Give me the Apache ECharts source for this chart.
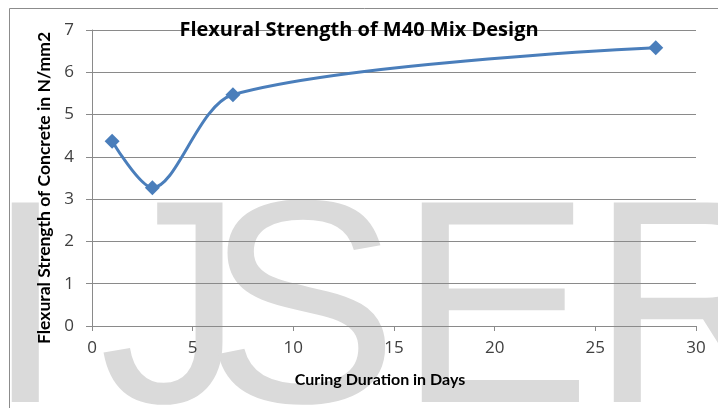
<!DOCTYPE html>
<html>
<head>
<meta charset="utf-8">
<script src="https://cdn.jsdelivr.net/npm/echarts@6/dist/echarts.min.js"></script>
<style>html,body{margin:0;padding:0;background:#fff}#c{width:718px;height:408px}</style>
</head>
<body>
<div id="c"></div>
<script>
const days = [1, 3, 7, 28];
const strength = [4.37, 3.27, 5.47, 6.58];
const xTicks = [0, 5, 10, 15, 20, 25, 30];
const yTicks = [0, 1, 2, 3, 4, 5, 6, 7];
const titleText = 'Flexural Strength of M40 Mix Design';
const xName = 'Curing Duration in Days';
const yName = 'Flexural Strength of Concrete in N/mm2';

const chart = echarts.init(document.getElementById('c'), null, {renderer: 'canvas'});
const wmFont = '290px "Liberation Sans"';
const wm = [['I', -15], ['J', 99], ['S', 205], ['E', 398], ['R', 590]];
const gridColor = '#8a8a8a';
const labelFont = 'Open Sans';
chart.setOption({
  animation: false,
  backgroundColor: '#fff',
  title: {
    text: titleText, left: 'center', top: 15,
    textStyle: {fontFamily: 'Open Sans', fontWeight: 'bold', fontSize: 20, color: '#000'}
  },
  graphic: [
    ...wm.map(([t, x]) => ({
      type: 'text', z: -10, silent: true,
      style: {text: t, x: x, y: 322, font: wmFont, fill: '#dadada', textVerticalAlign: 'middle'}
    })),
    {type: 'polyline', z: -5, silent: true,
     shape: {points: [[9.5, 420], [9.5, 8.5], [730, 8.5]]},
     style: {stroke: '#8c8c8c', lineWidth: 1, fill: null}}
  ],
  grid: {left: 92, right: 22, top: 30, bottom: 82},
  xAxis: {
    type: 'value', min: 0, max: 30, interval: 5,
    name: xName, nameLocation: 'middle', nameGap: 46,
    nameTextStyle: {fontFamily: 'Lato', fontWeight: 'bold', fontSize: 16, color: '#000', padding: [0, 28, 0, 0]},
    axisLine: {show: true, lineStyle: {color: gridColor, width: 1}},
    axisTick: {show: true, length: 5, inside: false, lineStyle: {color: gridColor}},
    axisLabel: {margin: 14, fontFamily: labelFont, fontSize: 17, color: '#404040',
      formatter: v => xTicks.includes(v) ? String(v) : ''},
    splitLine: {show: false}
  },
  yAxis: {
    type: 'value', min: 0, max: 7, interval: 1,
    name: yName, nameLocation: 'middle', nameGap: 37,
    nameTextStyle: {fontFamily: 'Lato', fontWeight: 'bold', fontSize: 17.5, color: '#000', padding: [0, 20, 0, 0]},
    axisLine: {show: true, lineStyle: {color: gridColor, width: 1}},
    axisTick: {show: true, length: 6, lineStyle: {color: gridColor}},
    axisLabel: {margin: 18, fontFamily: labelFont, fontSize: 17, color: '#404040',
      formatter: v => yTicks.includes(v) ? String(v) : ''},
    splitLine: {show: true, lineStyle: {color: gridColor, width: 1}}
  },
  series: [{
    type: 'line', smooth: 0.3,
    data: days.map((d, i) => [d, strength[i]]),
    symbol: 'diamond', symbolSize: 15, showSymbol: true,
    lineStyle: {color: '#4a7ebb', width: 3},
    itemStyle: {color: '#4a7ebb'}
  }]
});
</script>
</body>
</html>
